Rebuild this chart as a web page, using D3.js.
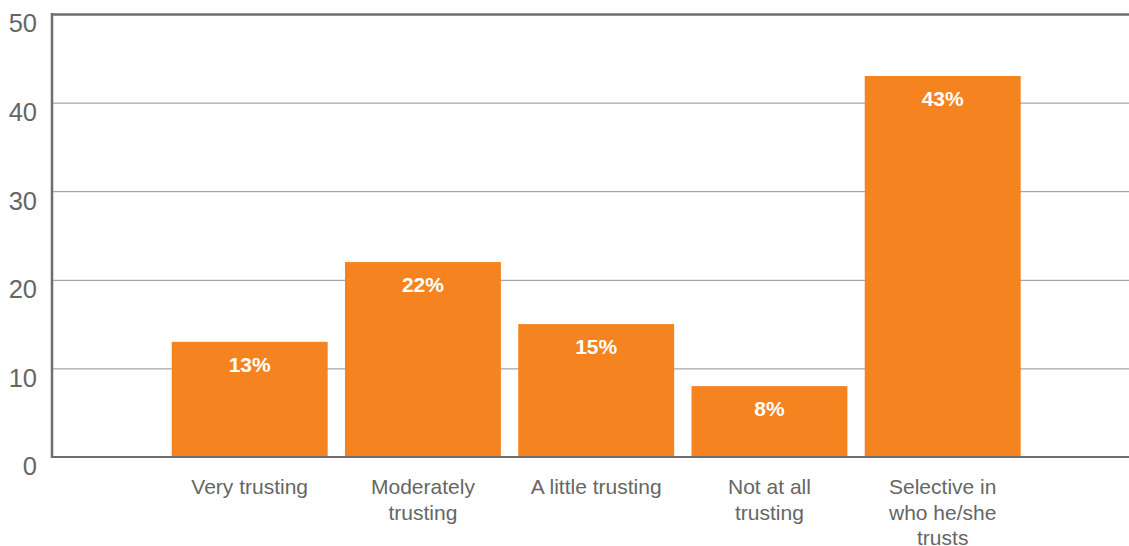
<!DOCTYPE html>
<html>
<head>
<meta charset="utf-8">
<script src="https://cdn.jsdelivr.net/npm/d3@7"></script>
<style>
  html, body { margin: 0; padding: 0; background: #fff; }
  svg { display: block; font-family: "Liberation Sans", Arial, Helvetica, sans-serif; }
</style>
</head>
<body>
<svg id="chart" width="1129" height="546"></svg>
<script>
// Survey responses: how trusting a person is
const categories = ["Very trusting", "Moderately trusting", "A little trusting", "Not at all trusting", "Selective in who he/she trusts"];
const categoryLines = [["Very trusting"], ["Moderately", "trusting"], ["A little trusting"], ["Not at all", "trusting"], ["Selective in", "who he/she", "trusts"]];
const values = [13, 22, 15, 8, 43];
const yTicks = [0, 10, 20, 30, 40, 50];

const svg = d3.select("#chart");
const W = 1129, H = 546;
const plotLeft = 52, plotTop = 14, plotBottom = 457, plotRight = W;

const x = d3.scaleBand()
  .domain(categories)
  .range([154.4, 1038])
  .paddingInner(0.1)
  .paddingOuter(0.1);

const y = d3.scaleLinear().domain([0, 50]).range([plotBottom, plotTop]);

// Horizontal gridlines
const grid = svg.append("g")
  .attr("transform", `translate(${plotLeft},0)`)
  .call(d3.axisLeft(y).tickValues(yTicks).tickSize(-(plotRight - plotLeft)).tickFormat(""));
grid.select(".domain").remove();
grid.selectAll(".tick line")
  .attr("stroke", "#a6a6a6")
  .attr("stroke-width", 1.2);
grid.selectAll(".tick").filter(d => d === 50).select("line")
  .attr("stroke", "#6e6e6e").attr("stroke-width", 2.5);
grid.selectAll(".tick").filter(d => d === 0).remove();

// Bars
svg.append("g").selectAll("rect")
  .data(values)
  .join("rect")
  .attr("x", (d, i) => x(categories[i]))
  .attr("y", d => y(d))
  .attr("width", x.bandwidth())
  .attr("height", d => y(0) - y(d))
  .attr("fill", "#f5831f");

// Value labels
svg.append("g").selectAll("text")
  .data(values)
  .join("text")
  .attr("x", (d, i) => x(categories[i]) + x.bandwidth() / 2)
  .attr("y", d => y(d) + 30)
  .attr("text-anchor", "middle")
  .attr("fill", "#fff")
  .attr("font-weight", "bold")
  .attr("font-size", 21)
  .text(d => d + "%");

// Y axis labels
const yAxis = svg.append("g")
  .attr("transform", `translate(${plotLeft},0)`)
  .call(d3.axisLeft(y).tickValues(yTicks).tickSize(0).tickPadding(15));
yAxis.select(".domain").remove();
yAxis.selectAll("text")
  .attr("font-size", 25.5)
  .attr("font-family", "Liberation Sans, Arial, sans-serif")
  .attr("fill", "#666")
  .attr("dy", "0.7em");

// Left axis line and baseline
svg.append("line")
  .attr("x1", plotLeft).attr("x2", plotLeft)
  .attr("y1", plotTop - 1).attr("y2", plotBottom + 1)
  .attr("stroke", "#6e6e6e").attr("stroke-width", 2.5);
svg.append("line")
  .attr("x1", plotLeft - 1).attr("x2", plotRight)
  .attr("y1", y(0)).attr("y2", y(0))
  .attr("stroke", "#6e6e6e").attr("stroke-width", 2.2);

// Category labels
const cat = svg.append("g").selectAll("text")
  .data(categories)
  .join("text")
  .attr("text-anchor", "middle")
  .attr("fill", "#666")
  .attr("font-size", 21)
  .attr("transform", d => `translate(${x(d) + x.bandwidth() / 2},494)`);
cat.selectAll("tspan")
  .data((d, i) => categoryLines[i])
  .join("tspan")
  .attr("x", 0)
  .attr("y", (d, i) => i * 25.5)
  .text(d => d);
</script>
</body>
</html>
